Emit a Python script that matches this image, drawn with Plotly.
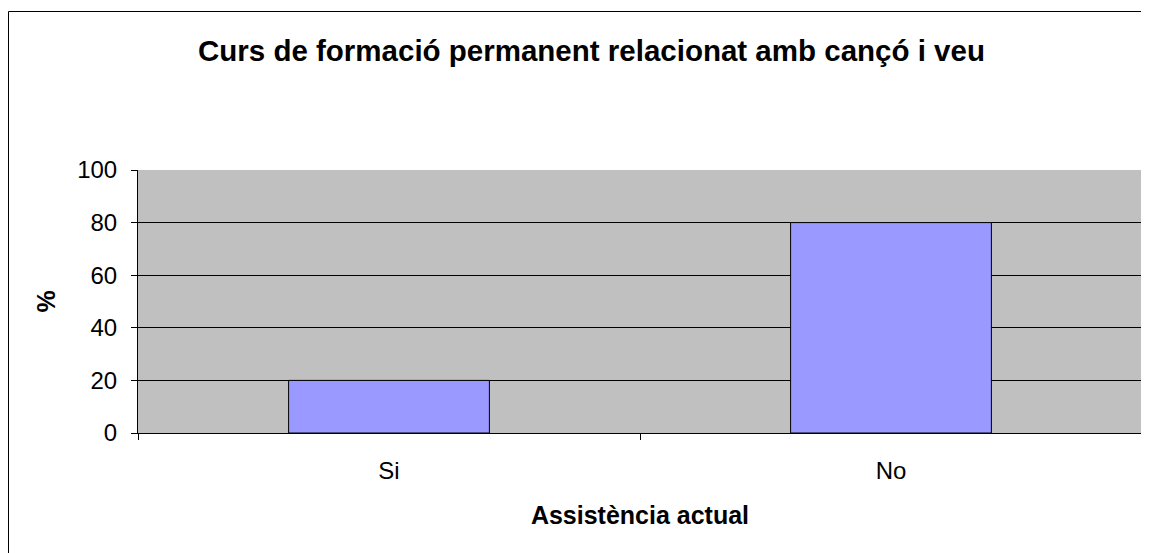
import plotly.graph_objects as go

categories = ["Si", "No"]
percent = [20, 80]
y_ticks = [0, 20, 40, 60, 80, 100]

title_text = "Curs de formació permanent relacionat amb cançó i veu"

# the page puts the figure 8px in from the top-left corner
W, H = 1141, 545
L, R, T, B = 130, 7, 162, 120
PW, PH = W - L - R, H - T - B

fig = go.Figure(
    go.Bar(
        x=categories,
        y=percent,
        width=0.4,
        marker=dict(color="#9999FF", line=dict(color="#000000", width=1)),
    )
)

fig.update_layout(
    width=W,
    height=H,
    margin=dict(l=L, r=R, t=T, b=B, pad=0),
    paper_bgcolor="white",
    plot_bgcolor="#C0C0C0",
    font=dict(family="Liberation Sans, Arial, sans-serif", size=24, color="#000000"),
    showlegend=False,
)

fig.update_xaxes(
    type="category",
    tickson="boundaries",
    ticks="outside",
    ticklen=6,
    tickcolor="#000000",
    ticklabelstandoff=16,
    showline=True,
    linecolor="#000000",
    linewidth=1,
    showgrid=False,
    title=dict(text="<b>Assistència actual</b>", font=dict(size=25), standoff=23),
)

fig.update_yaxes(
    range=[0, 100],
    tickvals=y_ticks,
    ticks="outside",
    ticklen=6,
    tickcolor="#000000",
    ticklabelstandoff=9,
    showline=True,
    linecolor="#000000",
    linewidth=1,
    showgrid=True,
    gridcolor="#000000",
    gridwidth=1,
    zeroline=False,
    title=dict(text="<b>%</b>", font=dict(size=25), standoff=14),
)

fig.add_annotation(
    text="<b>" + title_text + "</b>",
    xref="paper",
    yref="paper",
    x=(583 - L) / PW,
    y=1 + (T - 42) / PH,
    xanchor="center",
    yanchor="middle",
    showarrow=False,
    font=dict(size=29.5, color="#000000"),
)

# outer chart border
fig.add_shape(
    type="rect",
    xref="paper",
    yref="paper",
    x0=(0.5 - L) / PW,
    x1=1.05,
    y0=-0.6,
    y1=1 + (T - 3.5) / PH,
    line=dict(color="#000000", width=1),
    layer="below",
)

fig.write_html("out.html")
